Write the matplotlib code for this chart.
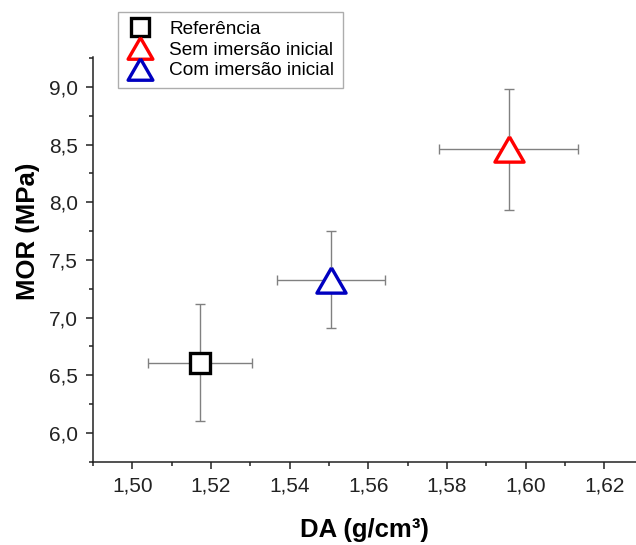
import matplotlib
matplotlib.use("Agg")
import matplotlib.pyplot as plt
from matplotlib.ticker import MultipleLocator, FuncFormatter

plt.rcParams['font.family'] = ['Liberation Sans', 'DejaVu Sans']

labels = ['Referência', 'Sem imersão inicial', 'Com imersão inicial']
da = [1.5172, 1.5957, 1.5505]
da_err = [0.0132, 0.0177, 0.0137]
mor = [6.61, 8.46, 7.33]
mor_err = [0.51, 0.525, 0.42]
colors = ['black', '#ff0000', '#0000c0']

tri = [(0, 0.866), (-1, -0.866), (1, -0.866), (0, 0.866)]
markers = ['s', tri, tri]
msizes = [15, 21, 21]

fig = plt.figure(figsize=(6.36, 5.45), dpi=100)
ax = fig.add_axes([93/636, (545-461.7)/545, 1 - 93/636, (461.7-57)/545])

handles = []
for i in range(len(labels)):
    ax.errorbar(da[i], mor[i], xerr=da_err[i], yerr=mor_err[i], fmt='none',
                ecolor='#808080', elinewidth=1.0, capsize=3.5, capthick=1.0, zorder=2)
    h, = ax.plot(da[i], mor[i], linestyle='none', marker=markers[i], ms=msizes[i],
                 mfc='white', mec=colors[i], mew=2.4, zorder=3, label=labels[i])
    handles.append(h)

ax.set_xlim(1.49, 1.6281)
ax.set_ylim(5.75, 9.26)
ax.xaxis.set_major_locator(MultipleLocator(0.02))
ax.xaxis.set_minor_locator(MultipleLocator(0.01))
ax.yaxis.set_major_locator(MultipleLocator(0.5))
ax.yaxis.set_minor_locator(MultipleLocator(0.25))
ax.xaxis.set_major_formatter(FuncFormatter(lambda v, p: f"{v:.2f}".replace('.', ',')))
ax.yaxis.set_major_formatter(FuncFormatter(lambda v, p: f"{v:.1f}".replace('.', ',')))

for s in ['top', 'right']:
    ax.spines[s].set_visible(False)
for s in ['left', 'bottom']:
    ax.spines[s].set_linewidth(1.1)
    ax.spines[s].set_color('#222222')

ax.tick_params(which='major', direction='out', length=5, width=1.1, labelsize=15,
               colors='#222222', pad=6)
ax.tick_params(which='minor', direction='out', length=3, width=1.1, colors='#222222')

ax.set_xlabel('DA (g/cm³)', fontsize=18.5, fontweight='bold', labelpad=16)
ax.set_ylabel('MOR (MPa)', fontsize=18.5, fontweight='bold')
ax.yaxis.set_label_coords(-0.098, 0.57)

leg = fig.legend(handles=handles, labels=labels, loc='upper left',
                 bbox_to_anchor=(118/636, 1 - 12/545), bbox_transform=fig.transFigure,
                 fontsize=13.7, frameon=True, fancybox=False, edgecolor='#999999',
                 borderpad=0.45, handlelength=1.45, handletextpad=0.8,
                 labelspacing=0.18, markerscale=0.85, borderaxespad=0)
leg.get_frame().set_linewidth(1.0)

fig.savefig('out.png', dpi=100)
